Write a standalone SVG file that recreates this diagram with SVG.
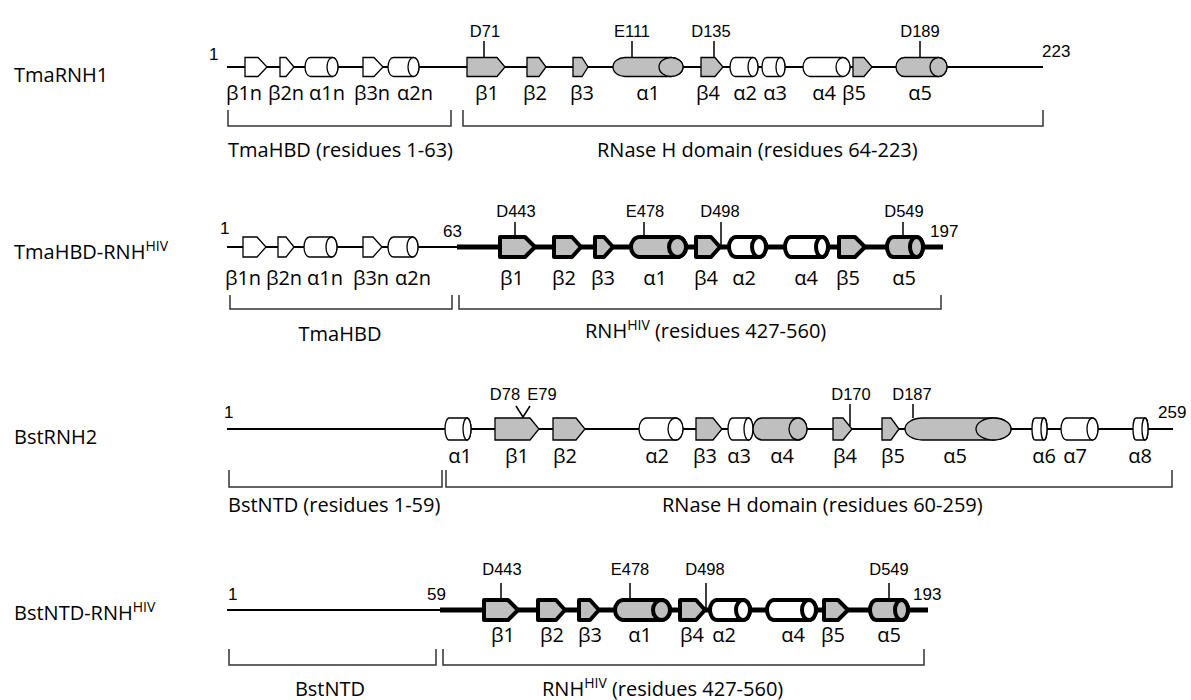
<svg xmlns="http://www.w3.org/2000/svg" width="1191" height="700" viewBox="0 0 1191 700">
<style>
.ln{stroke:#000;stroke-width:1.8;fill:none}
.thk{stroke:#000;stroke-width:5;fill:none}
.tk{stroke:#000;stroke-width:1.5;fill:none}
.br{stroke:#333;stroke-width:1.5;fill:none}
.w{fill:#fff;stroke:#000;stroke-width:1.3}
.g{fill:#bfbfbf;stroke:#000;stroke-width:1.3}
.wT{fill:#fff;stroke:#000;stroke-width:4;stroke-linejoin:round}
.gT{fill:#bfbfbf;stroke:#000;stroke-width:4;stroke-linejoin:round}
.lb{font-family:"Open Sans",sans-serif;font-size:20px;text-anchor:middle;fill:#000}
.tx{font-family:"Open Sans",sans-serif;font-size:20px;fill:#000}
.res{font-family:"Liberation Sans",Arial,sans-serif;font-size:16.5px;text-anchor:middle;fill:#000}
.num{font-family:"Liberation Sans",Arial,sans-serif;font-size:17px;fill:#000}
.sup{font-size:14px}
</style>
<rect width="1191" height="700" fill="#fff"/>

<g id="connectors">
  <line class="ln" x1="227" y1="67" x2="1043" y2="67"/>
  <line class="ln" x1="227" y1="247" x2="458" y2="247"/>
  <line class="thk" x1="457" y1="247" x2="943" y2="247"/>
  <line class="ln" x1="227" y1="429" x2="1173" y2="429"/>
  <line class="ln" x1="227" y1="610" x2="441" y2="610"/>
  <line class="thk" x1="440" y1="610" x2="928" y2="610"/>
  <path class="tk" d="M484,41V57.5 M632,41V57.5 M714,41V58.5 M920,41V57.5"/>
  <path class="tk" d="M515,222V235 M644,222V235 M721,222V247 M903,222V235"/>
  <path class="tk" d="M516,406L523,417L530,406 M850,404V426 M913,404V418"/>
  <path class="tk" d="M501,583V598 M630,583V598 M706,583V610 M889,583V598"/>
</g>

<g id="brackets">
  <path class="br" d="M228,110V126H451V110"/>
  <path class="br" d="M463,110V126H1043V110"/>
  <path class="br" d="M230,295V309H452V295"/>
  <path class="br" d="M459,295V309H941V295"/>
  <path class="br" d="M229,470V487H442V470"/>
  <path class="br" d="M446,470V487H1172V470"/>
  <path class="br" d="M229,649V665H436V649"/>
  <path class="br" d="M443,649V665H924V649"/>
</g>

<g id="row1">
  <text class="tx" x="14" y="82">TmaRNH1</text>
  <text class="num" x="209" y="60">1</text>
  <text class="num" x="1042" y="57">223</text>
  <g id="r1-b1n"><path class="w" d="M245,57.5H258L267,67L258,76.5H245Z"/></g>
  <g id="r1-b2n"><path class="w" d="M280,57.5H286L294,67L286,76.5H280Z"/></g>
  <g id="r1-a1n"><path class="w" d="M310.5,57.5H332.5A5.5,9.5 0 0 1 332.5,76.5H310.5A5.5,9.5 0 0 1 310.5,57.5Z"/><ellipse class="w" cx="332.5" cy="67" rx="5.5" ry="9.5"/></g>
  <g id="r1-b3n"><path class="w" d="M363,57.5H374L383,67L374,76.5H363Z"/></g>
  <g id="r1-a2n"><path class="w" d="M393.5,57.5H413.5A5.5,9.5 0 0 1 413.5,76.5H393.5A5.5,9.5 0 0 1 393.5,57.5Z"/><ellipse class="w" cx="413.5" cy="67" rx="5.5" ry="9.5"/></g>
  <g id="r1-b1"><path class="g" d="M467,57.5H497L505,67L497,76.5H467Z"/></g>
  <g id="r1-b2"><path class="g" d="M527,57.5H539L546,67L539,76.5H527Z"/></g>
  <g id="r1-b3"><path class="g" d="M573,57.5H582L588,67L582,76.5H573Z"/></g>
  <g id="r1-a1"><path class="g" d="M625,57.5H671A12,9.5 0 0 1 671,76.5H625A12,9.5 0 0 1 625,57.5Z"/><ellipse class="g" cx="671" cy="67" rx="12" ry="9.5"/></g>
  <g id="r1-b4"><path class="g" d="M701,57.5H715L723,67L715,76.5H701Z"/></g>
  <g id="r1-a2"><path class="w" d="M735,57.5H753A5,9.5 0 0 1 753,76.5H735A5,9.5 0 0 1 735,57.5Z"/><ellipse class="w" cx="753" cy="67" rx="5" ry="9.5"/></g>
  <g id="r1-a3"><path class="w" d="M766.5,57.5H780.5A4.5,9.5 0 0 1 780.5,76.5H766.5A4.5,9.5 0 0 1 766.5,57.5Z"/><ellipse class="w" cx="780.5" cy="67" rx="4.5" ry="9.5"/></g>
  <g id="r1-a4"><path class="w" d="M810,57.5H843A7,9.5 0 0 1 843,76.5H810A7,9.5 0 0 1 810,57.5Z"/><ellipse class="w" cx="843" cy="67" rx="7" ry="9.5"/></g>
  <g id="r1-b5"><path class="g" d="M853,57.5H864L872,67L864,76.5H853Z"/></g>
  <g id="r1-a5"><path class="g" d="M904.5,57.5H938.5A8.5,9.5 0 0 1 938.5,76.5H904.5A8.5,9.5 0 0 1 904.5,57.5Z"/><ellipse class="g" cx="938.5" cy="67" rx="8.5" ry="9.5"/></g>
  <text class="res" x="485" y="37">D71</text>
  <text class="res" x="632" y="37">E111</text>
  <text class="res" x="711" y="37">D135</text>
  <text class="res" x="920" y="37">D189</text>
  <text class="lb" x="244" y="100">β1n</text>
  <text class="lb" x="286" y="100">β2n</text>
  <text class="lb" x="327" y="100">α1n</text>
  <text class="lb" x="372" y="100">β3n</text>
  <text class="lb" x="415" y="100">α2n</text>
  <text class="lb" x="487" y="100">β1</text>
  <text class="lb" x="535" y="100">β2</text>
  <text class="lb" x="582" y="100">β3</text>
  <text class="lb" x="648" y="100">α1</text>
  <text class="lb" x="708" y="100">β4</text>
  <text class="lb" x="745" y="100">α2</text>
  <text class="lb" x="775" y="100">α3</text>
  <text class="lb" x="824" y="100">α4</text>
  <text class="lb" x="854" y="100">β5</text>
  <text class="lb" x="920" y="100">α5</text>
  <text class="tx" x="228" y="157">TmaHBD (residues 1-63)</text>
  <text class="tx" x="597" y="157">RNase H domain (residues 64-223)</text>
</g>

<g id="row2">
  <text class="tx" x="14" y="259">TmaHBD-RNH<tspan class="sup" dy="-8">HIV</tspan></text>
  <text class="num" x="220" y="234">1</text>
  <text class="num" x="443" y="237">63</text>
  <text class="num" x="930" y="237">197</text>
  <g id="r2-b1n"><path class="w" d="M243,237H257L266,247L257,257H243Z"/></g>
  <g id="r2-b2n"><path class="w" d="M278,237H286L294,247L286,257H278Z"/></g>
  <g id="r2-a1n"><path class="w" d="M309.5,237H331.5A5.5,10 0 0 1 331.5,257H309.5A5.5,10 0 0 1 309.5,237Z"/><ellipse class="w" cx="331.5" cy="247" rx="5.5" ry="10"/></g>
  <g id="r2-b3n"><path class="w" d="M363,237H373L382,247L373,257H363Z"/></g>
  <g id="r2-a2n"><path class="w" d="M393.5,237H412.5A5.5,10 0 0 1 412.5,257H393.5A5.5,10 0 0 1 393.5,237Z"/><ellipse class="w" cx="412.5" cy="247" rx="5.5" ry="10"/></g>
  <g id="r2-b1"><path class="gT" d="M500,237H525L535,247L525,257H500Z"/></g>
  <g id="r2-b2"><path class="gT" d="M554,237H572L581,247L572,257H554Z"/></g>
  <g id="r2-b3"><path class="gT" d="M595,237H604L613,247L604,257H595Z"/></g>
  <g id="r2-a1"><path class="gT" d="M639.5,237H677.5A8.5,10 0 0 1 677.5,257H639.5A8.5,10 0 0 1 639.5,237Z"/><ellipse class="gT" cx="677.5" cy="247" rx="8.5" ry="10"/></g>
  <g id="r2-b4"><path class="gT" d="M696,237H711L720,247L711,257H696Z"/></g>
  <g id="r2-a2"><path class="wT" d="M736,237H759A7,10 0 0 1 759,257H736A7,10 0 0 1 736,237Z"/><ellipse class="wT" cx="759" cy="247" rx="7" ry="10"/></g>
  <g id="r2-a4"><path class="wT" d="M791,237H822A6,10 0 0 1 822,257H791A6,10 0 0 1 791,237Z"/><ellipse class="wT" cx="822" cy="247" rx="6" ry="10"/></g>
  <g id="r2-b5"><path class="gT" d="M839,237H855L865,247L855,257H839Z"/></g>
  <g id="r2-a5"><path class="gT" d="M893.5,237H916.5A6.5,10 0 0 1 916.5,257H893.5A6.5,10 0 0 1 893.5,237Z"/><ellipse class="gT" cx="916.5" cy="247" rx="6.5" ry="10"/></g>
  <text class="res" x="516" y="217">D443</text>
  <text class="res" x="645" y="217">E478</text>
  <text class="res" x="720" y="217">D498</text>
  <text class="res" x="904" y="217">D549</text>
  <text class="lb" x="243" y="285">β1n</text>
  <text class="lb" x="284" y="285">β2n</text>
  <text class="lb" x="325" y="285">α1n</text>
  <text class="lb" x="371" y="285">β3n</text>
  <text class="lb" x="413" y="285">α2n</text>
  <text class="lb" x="512" y="285">β1</text>
  <text class="lb" x="564" y="285">β2</text>
  <text class="lb" x="603" y="285">β3</text>
  <text class="lb" x="655" y="285">α1</text>
  <text class="lb" x="706" y="285">β4</text>
  <text class="lb" x="744" y="285">α2</text>
  <text class="lb" x="806" y="285">α4</text>
  <text class="lb" x="848" y="285">β5</text>
  <text class="lb" x="904" y="285">α5</text>
  <text class="lb" x="340" y="341">TmaHBD</text>
  <text class="tx" x="585" y="338">RNH<tspan class="sup" dy="-8">HIV</tspan><tspan dy="8"> (residues 427-560)</tspan></text>
</g>

<g id="row3">
  <text class="tx" x="14" y="444">BstRNH2</text>
  <text class="num" x="224" y="418">1</text>
  <text class="num" x="1158" y="418">259</text>
  <g id="r3-a1"><path class="w" d="M449,418H467A4,11 0 0 1 467,440H449A4,11 0 0 1 449,418Z"/><ellipse class="w" cx="467" cy="429" rx="4" ry="11"/></g>
  <g id="r3-b1"><path class="g" d="M495,418H530L539,429L530,440H495Z"/></g>
  <g id="r3-b2"><path class="g" d="M553,418H576L585,429L576,440H553Z"/></g>
  <g id="r3-a2"><path class="w" d="M646.5,418H675.5A7.5,11 0 0 1 675.5,440H646.5A7.5,11 0 0 1 646.5,418Z"/><ellipse class="w" cx="675.5" cy="429" rx="7.5" ry="11"/></g>
  <g id="r3-b3"><path class="g" d="M696,418H713L722,429L713,440H696Z"/></g>
  <g id="r3-a3"><path class="w" d="M732.5,418H748.5A4.5,11 0 0 1 748.5,440H732.5A4.5,11 0 0 1 732.5,418Z"/><ellipse class="w" cx="748.5" cy="429" rx="4.5" ry="11"/></g>
  <g id="r3-a4"><path class="g" d="M762,418H798A9,11 0 0 1 798,440H762A9,11 0 0 1 762,418Z"/><ellipse class="g" cx="798" cy="429" rx="9" ry="11"/></g>
  <g id="r3-b4"><path class="g" d="M833,418H843L852,429L843,440H833Z"/></g>
  <g id="r3-b5"><path class="g" d="M882,418H891L899,429L891,440H882Z"/></g>
  <g id="r3-a5"><path class="g" d="M922.5,418H993.5A17.5,11 0 0 1 993.5,440H922.5A17.5,11 0 0 1 922.5,418Z"/><ellipse class="g" cx="993.5" cy="429" rx="17.5" ry="11"/></g>
  <g id="r3-a6"><path class="w" d="M1035,418H1044A3,11 0 0 1 1044,440H1035A3,11 0 0 1 1035,418Z"/><ellipse class="w" cx="1044" cy="429" rx="3" ry="11"/></g>
  <g id="r3-a7"><path class="w" d="M1066.5,418H1092.5A5.5,11 0 0 1 1092.5,440H1066.5A5.5,11 0 0 1 1066.5,418Z"/><ellipse class="w" cx="1092.5" cy="429" rx="5.5" ry="11"/></g>
  <g id="r3-a8"><path class="w" d="M1136,418H1145A3,11 0 0 1 1145,440H1136A3,11 0 0 1 1136,418Z"/><ellipse class="w" cx="1145" cy="429" rx="3" ry="11"/></g>
  <text class="res" x="505" y="400">D78</text>
  <text class="res" x="542" y="400">E79</text>
  <text class="res" x="851" y="400">D170</text>
  <text class="res" x="912" y="400">D187</text>
  <text class="lb" x="460" y="463">α1</text>
  <text class="lb" x="517" y="463">β1</text>
  <text class="lb" x="565" y="463">β2</text>
  <text class="lb" x="657" y="463">α2</text>
  <text class="lb" x="705" y="463">β3</text>
  <text class="lb" x="739" y="463">α3</text>
  <text class="lb" x="782" y="463">α4</text>
  <text class="lb" x="845" y="463">β4</text>
  <text class="lb" x="893" y="463">β5</text>
  <text class="lb" x="955" y="463">α5</text>
  <text class="lb" x="1044" y="463">α6</text>
  <text class="lb" x="1075" y="463">α7</text>
  <text class="lb" x="1140" y="463">α8</text>
  <text class="tx" x="228" y="512">BstNTD (residues 1-59)</text>
  <text class="tx" x="662" y="512">RNase H domain (residues 60-259)</text>
</g>

<g id="row4">
  <text class="tx" x="14" y="620">BstNTD-RNH<tspan class="sup" dy="-8">HIV</tspan></text>
  <text class="num" x="228" y="600">1</text>
  <text class="num" x="427" y="600">59</text>
  <text class="num" x="913" y="600">193</text>
  <g id="r4-b1"><path class="gT" d="M484,600H508L518,610L508,620H484Z"/></g>
  <g id="r4-b2"><path class="gT" d="M538,600H556L565,610L556,620H538Z"/></g>
  <g id="r4-b3"><path class="gT" d="M579,600H590L599,610L590,620H579Z"/></g>
  <g id="r4-a1"><path class="gT" d="M623.5,600H661.5A8.5,10 0 0 1 661.5,620H623.5A8.5,10 0 0 1 623.5,600Z"/><ellipse class="gT" cx="661.5" cy="610" rx="8.5" ry="10"/></g>
  <g id="r4-b4"><path class="gT" d="M680,600H696L705,610L696,620H680Z"/></g>
  <g id="r4-a2"><path class="wT" d="M717,600H743A7,10 0 0 1 743,620H717A7,10 0 0 1 717,600Z"/><ellipse class="wT" cx="743" cy="610" rx="7" ry="10"/></g>
  <g id="r4-a4"><path class="wT" d="M774,600H809A7,10 0 0 1 809,620H774A7,10 0 0 1 774,600Z"/><ellipse class="wT" cx="809" cy="610" rx="7" ry="10"/></g>
  <g id="r4-b5"><path class="gT" d="M824,600H838L848,610L838,620H824Z"/></g>
  <g id="r4-a5"><path class="gT" d="M876.5,600H901.5A6.5,10 0 0 1 901.5,620H876.5A6.5,10 0 0 1 876.5,600Z"/><ellipse class="gT" cx="901.5" cy="610" rx="6.5" ry="10"/></g>
  <text class="res" x="502" y="575">D443</text>
  <text class="res" x="630" y="575">E478</text>
  <text class="res" x="705" y="575">D498</text>
  <text class="res" x="889" y="575">D549</text>
  <text class="lb" x="503" y="642">β1</text>
  <text class="lb" x="552" y="642">β2</text>
  <text class="lb" x="590" y="642">β3</text>
  <text class="lb" x="640" y="642">α1</text>
  <text class="lb" x="692" y="642">β4</text>
  <text class="lb" x="724" y="642">α2</text>
  <text class="lb" x="793" y="642">α4</text>
  <text class="lb" x="833" y="642">β5</text>
  <text class="lb" x="889" y="642">α5</text>
  <text class="lb" x="330" y="696">BstNTD</text>
  <text class="tx" x="542" y="696">RNH<tspan class="sup" dy="-8">HIV</tspan><tspan dy="8"> (residues 427-560)</tspan></text>
</g>
</svg>
